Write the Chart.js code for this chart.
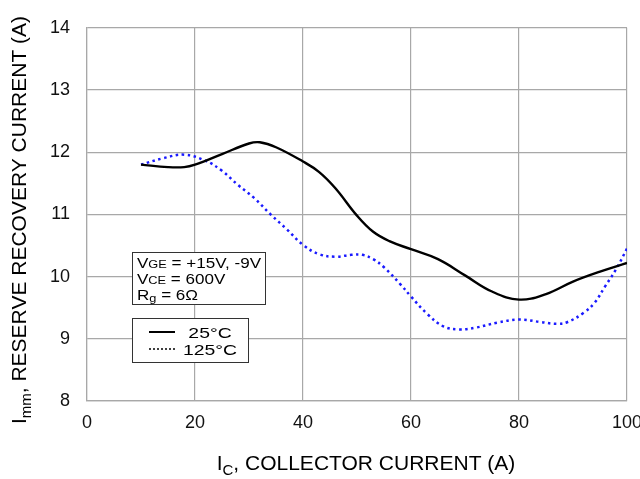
<!DOCTYPE html>
<html>
<head>
<meta charset="utf-8">
<script src="https://cdn.jsdelivr.net/npm/chart.js@4"></script>
<style>
  html, body { margin: 0; padding: 0; background: #fff; }
  #wrap { width: 640px; height: 479px; position: relative; }
</style>
</head>
<body>
<div id="wrap"><canvas id="chart-irr"></canvas></div>
<script>
// 25°C curve
var ic25 = [10, 15, 18, 20, 25, 30, 32, 35, 40, 43, 46, 50, 53, 56, 60, 65, 70, 75, 80, 85, 90, 95, 100];
var irr25 = [11.80, 11.76, 11.76, 11.80, 11.97, 12.14, 12.16, 12.08, 11.85, 11.68, 11.42, 10.98, 10.72, 10.57, 10.44, 10.28, 10.02, 9.76, 9.63, 9.72, 9.92, 10.08, 10.22];

// 125°C curve
var ic125 = [10, 14, 18, 22, 25, 28, 31, 34, 37, 40, 43, 46, 49, 51, 53, 55, 58, 60, 63, 66, 69, 72, 76, 80, 84, 87, 89, 92, 94, 96, 98, 100];
var irr125 = [11.80, 11.90, 11.96, 11.86, 11.70, 11.47, 11.26, 11.00, 10.76, 10.51, 10.36, 10.32, 10.35, 10.35, 10.28, 10.15, 9.88, 9.68, 9.40, 9.20, 9.15, 9.18, 9.26, 9.31, 9.27, 9.24, 9.27, 9.42, 9.58, 9.85, 10.12, 10.45];

var xTicks = [0, 20, 40, 60, 80, 100];
var yTicks = [8, 9, 10, 11, 12, 13, 14];

var conditions = [
  [['V', 14], ['GE', 10.5], [' = +15V, -9V', 14]],
  [['V', 14], ['CE', 10.5], [' = 600V', 14]],
  [['R', 14], ['g', 10.5, 2], [' = 6\u03A9', 14]]
];
var legendItems = [
  { label: '25\u00B0C', dash: [] },
  { label: '125\u00B0C', dash: [2, 2] }
];

(function () {
  'use strict';

  var FONT = '"Liberation Sans", Arial, sans-serif';

  function toPoints(xs, ys) {
    return xs.map(function (x, i) { return { x: x, y: ys[i] }; });
  }

  // draws a run of text pieces: [text, size, baselineShift], optionally stretched
  function drawRuns(ctx, runs, x, y, sx) {
    ctx.save();
    ctx.translate(x, y);
    ctx.scale(sx || 1, 1);
    var cx = 0;
    runs.forEach(function (r) {
      ctx.font = r[1] + 'px ' + FONT;
      ctx.fillText(r[0], cx, r[2] || 0);
      cx += ctx.measureText(r[0]).width;
    });
    ctx.restore();
  }

  function runsWidth(ctx, runs) {
    var w = 0;
    runs.forEach(function (r) {
      ctx.font = r[1] + 'px ' + FONT;
      w += ctx.measureText(r[0]).width;
    });
    return w;
  }

  var annotate = {
    id: 'annotate',
    afterDraw: function (chart) {
      var ctx = chart.ctx;
      ctx.save();
      ctx.fillStyle = '#000';
      ctx.textBaseline = 'alphabetic';
      ctx.textAlign = 'left';

      // axis titles with subscripts
      var xt = [['I', 21], ['C', 15, 5], [', COLLECTOR CURRENT (A)', 21]];
      var xw = runsWidth(ctx, xt);
      drawRuns(ctx, xt, 366 - xw / 2, 470);

      var yt = [['I', 21], ['mm', 15, 5], [', RESERVE RECOVERY CURRENT (A)', 21]];
      var yw = runsWidth(ctx, yt);
      ctx.save();
      ctx.translate(26, 220);
      ctx.rotate(-Math.PI / 2);
      drawRuns(ctx, yt, -yw / 2, 0);
      ctx.restore();

      // test conditions box
      ctx.fillStyle = '#fff';
      ctx.fillRect(132, 252, 133, 52);
      ctx.strokeStyle = '#333';
      ctx.lineWidth = 1;
      ctx.strokeRect(132.5, 252.5, 133, 52);
      ctx.fillStyle = '#000';
      var sx = 124 / runsWidth(ctx, conditions[0]);
      conditions.forEach(function (line, i) {
        drawRuns(ctx, line, 137, 268 + i * 16, sx);
      });

      // legend box
      ctx.fillStyle = '#fff';
      ctx.fillRect(132, 318, 116, 44);
      ctx.strokeRect(132.5, 318.5, 116, 44);
      legendItems.forEach(function (item, i) {
        var y = 332 + i * 17;
        ctx.save();
        ctx.strokeStyle = '#000';
        ctx.lineWidth = i === 0 ? 2 : 1.5;
        ctx.setLineDash(item.dash);
        ctx.beginPath();
        ctx.moveTo(149, y);
        ctx.lineTo(175, y);
        ctx.stroke();
        ctx.restore();
        ctx.fillStyle = '#000';
        var runs = [[item.label, 15.5]];
        var w = runsWidth(ctx, runs) * 1.25;
        drawRuns(ctx, runs, 210 - w / 2, y + 5.5, 1.25);
      });
      ctx.restore();
    }
  };

  var ctx = document.getElementById('chart-irr');
  new Chart(ctx.getContext('2d'), {
    type: 'line',
    data: {
      datasets: [{
        label: '25\u00B0C',
        data: toPoints(ic25, irr25),
        borderColor: '#000',
        borderWidth: 2.4,
        pointRadius: 0,
        tension: 0.4,
        fill: false
      }, {
        label: '125\u00B0C',
        data: toPoints(ic125, irr125),
        borderColor: '#1a1aff',
        borderWidth: 2.5,
        borderDash: [2.5, 3.5],
        pointRadius: 0,
        tension: 0.4,
        fill: false
      }]
    },
    options: {
      responsive: true,
      maintainAspectRatio: false,
      animation: false,
      layout: { padding: { left: 0, top: 24, right: 13, bottom: 0 } },
      plugins: {
        legend: { display: false },
        tooltip: { enabled: false }
      },
      scales: {
        x: {
          type: 'linear',
          min: 0,
          max: 100,
          afterBuildTicks: function (scale) {
            scale.ticks = xTicks.map(function (v) { return { value: v }; });
          },
          afterFit: function (scale) {
            scale.height = 78;
            scale.paddingLeft = 0;
            scale.paddingRight = 0;
          },
          grid: { color: '#a8a8a8', lineWidth: 1.2, drawTicks: false },
          border: { color: '#a8a8a8', width: 1.2 },
          ticks: { color: '#111', font: { size: 18, family: FONT }, padding: 11 }
        },
        y: {
          min: 8,
          max: 14,
          afterBuildTicks: function (scale) {
            scale.ticks = yTicks.map(function (v) { return { value: v }; });
          },
          afterFit: function (scale) {
            scale.width = 87;
          },
          grid: { color: '#a8a8a8', lineWidth: 1.2, drawTicks: false },
          border: { color: '#a8a8a8', width: 1.2 },
          ticks: { color: '#111', font: { size: 18, family: FONT }, padding: 17 }
        }
      }
    },
    plugins: [annotate]
  });
})();
</script>
</body>
</html>
